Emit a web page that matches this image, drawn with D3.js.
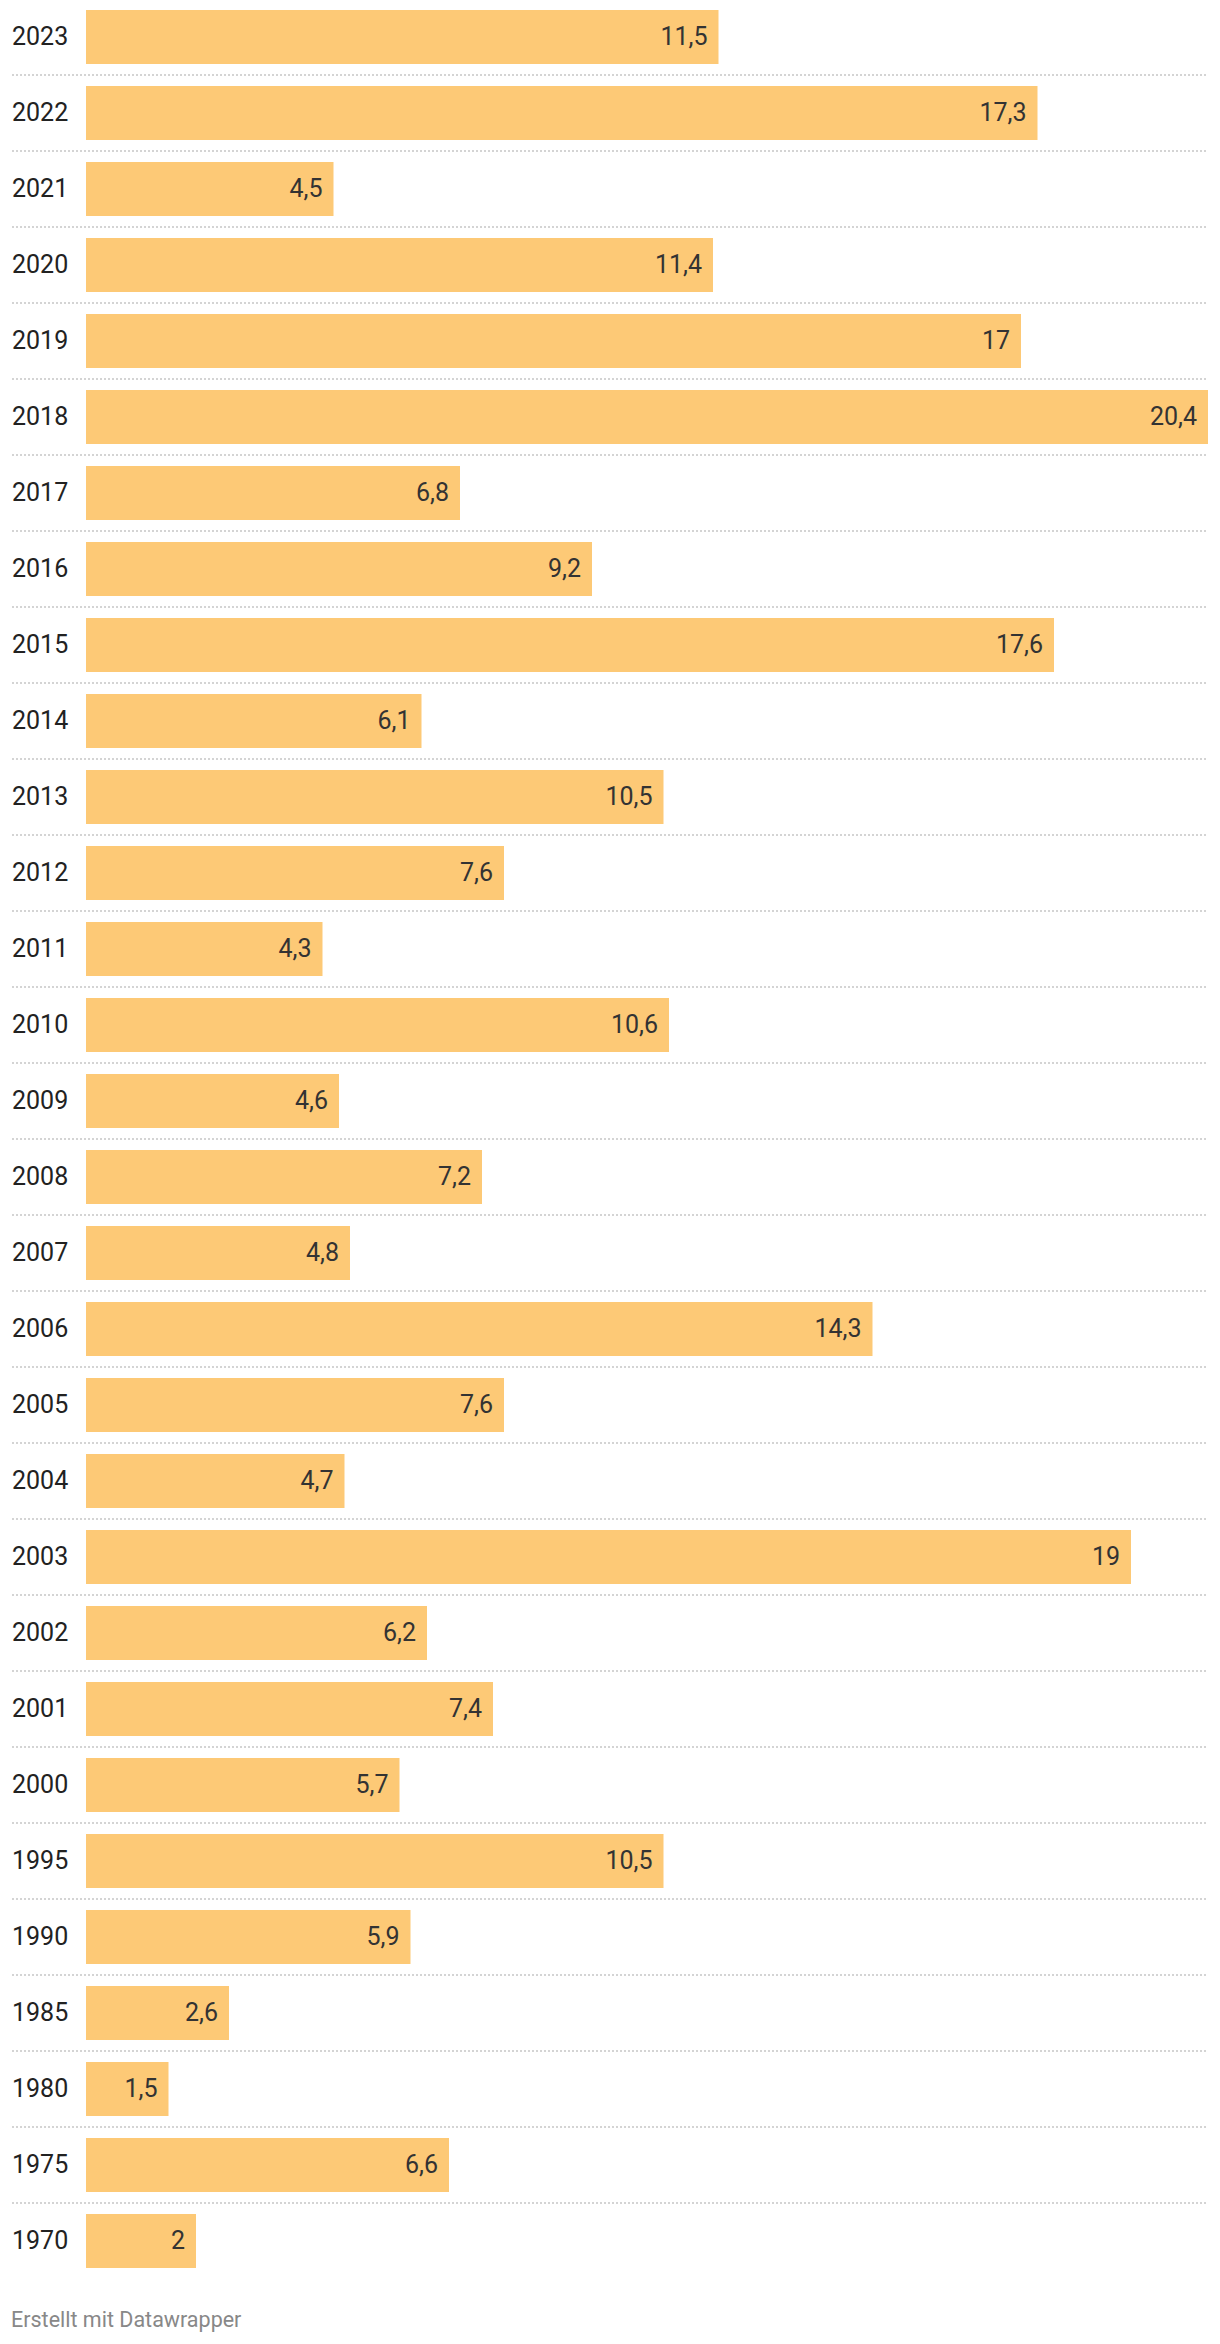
<!DOCTYPE html>
<html>
<head>
<meta charset="utf-8">
<script src="https://cdn.jsdelivr.net/npm/d3@7"></script>
<style>
  html, body { margin: 0; padding: 0; background: #fff; }
  svg text { font-family: Roboto, "Noto Sans", sans-serif; }
</style>
</head>
<body>
<svg id="chart" width="1220" height="2344"></svg>
<script>
const years = ["2023","2022","2021","2020","2019","2018","2017","2016","2015","2014","2013","2012","2011","2010","2009","2008","2007","2006","2005","2004","2003","2002","2001","2000","1995","1990","1985","1980","1975","1970"];
const values = [11.5,17.3,4.5,11.4,17,20.4,6.8,9.2,17.6,6.1,10.5,7.6,4.3,10.6,4.6,7.2,4.8,14.3,7.6,4.7,19,6.2,7.4,5.7,10.5,5.9,2.6,1.5,6.6,2];
const footerText = "Erstellt mit Datawrapper";

(function () {
const svg = d3.select("#chart");
const rowPitch = 76;
const firstTop = 10;
const x = d3.scaleLinear().domain([0, d3.max(values)]).range([86, 1208]);
const y = d3.scaleBand().domain(years).range([firstTop - 11, firstTop - 11 + rowPitch * years.length]).paddingInner(0).paddingOuter(0);
const barH = 54;
const fmt = v => String(v).replace(".", ",");

const rows = svg.append("g").selectAll("g").data(years).join("g")
  .attr("transform", d => `translate(0,${y(d)})`);

// separators
rows.filter((d, i) => i < years.length - 1).append("line")
  .attr("x1", 12).attr("x2", 1208)
  .attr("y1", 11 + barH + 11).attr("y2", 11 + barH + 11)
  .attr("stroke", "#d4d4d4").attr("stroke-width", 2)
  .attr("stroke-dasharray", "2,2");

rows.append("rect")
  .attr("x", x(0))
  .attr("y", 11)
  .attr("width", (d, i) => x(values[i]) - x(0))
  .attr("height", barH)
  .attr("fill", "#fdc976");

rows.append("text")
  .attr("x", 12)
  .attr("y", 11 + barH / 2)
  .attr("dy", "0.33em")
  .attr("font-size", 25)
  .attr("fill", "#222")
  .text(d => d);

rows.append("text")
  .attr("x", (d, i) => x(values[i]) - 11)
  .attr("y", 11 + barH / 2)
  .attr("dy", "0.33em")
  .attr("text-anchor", "end")
  .attr("font-size", 25)
  .attr("fill", "#333")
  .text((d, i) => fmt(values[i]));

svg.append("text")
  .attr("x", 11).attr("y", 2327)
  .attr("font-size", 21.5)
  .attr("fill", "#888")
  .text(footerText);
})();
</script>
</body>
</html>
